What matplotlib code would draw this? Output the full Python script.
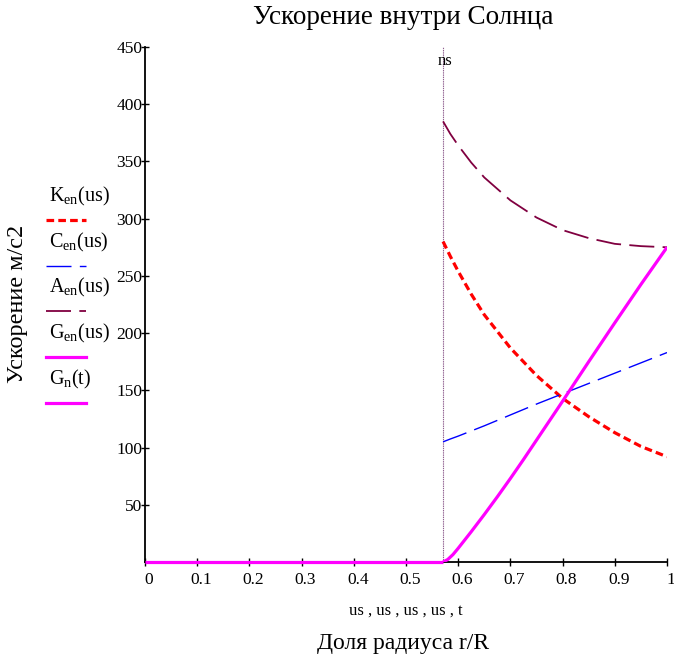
import matplotlib
matplotlib.use("Agg")
import matplotlib.pyplot as plt
from matplotlib.lines import Line2D
import matplotlib.transforms as mtransforms

plt.rcParams['font.family'] = ['Liberation Serif', 'DejaVu Serif']
plt.rcParams['mathtext.fontset'] = 'custom'
plt.rcParams['mathtext.rm'] = 'Liberation Serif'
plt.rcParams['mathtext.it'] = 'Liberation Serif'
plt.rcParams['lines.scale_dashes'] = False

# ---- data ----
ns = 0.571
us = [0.571, 0.585, 0.6, 0.625, 0.65, 0.7, 0.75, 0.8, 0.85, 0.9, 0.95, 1.0]
K_en = [280, 267, 254, 234, 216, 187, 163, 143, 127, 113, 101, 92]
C_en = [105, 107.5, 110, 114.5, 119, 128.5, 138, 147, 156, 165, 174, 183]
A_en = [385, 374, 364, 349, 336, 316, 301, 290, 283, 278, 276, 275]
us_g = [0.571, 0.58, 0.59, 0.6, 0.625, 0.65, 0.675, 0.7, 0.725, 0.75, 0.775, 0.8,
        0.85, 0.9, 0.95, 1.0]
G_en = [0, 2.2, 6.5, 12, 26.5, 41.5, 57, 73, 89.5, 106.5, 123.5, 140.5,
        175, 209, 242.5, 275]
t = [0.0, 0.571]
G_n = [0, 0]

xticks = [0, 0.1, 0.2, 0.3, 0.4, 0.5, 0.6, 0.7, 0.8, 0.9, 1.0]
xticklabels = ['0', '0.1', '0.2', '0.3', '0.4', '0.5', '0.6', '0.7', '0.8', '0.9', '1']
yticks = [50, 100, 150, 200, 250, 300, 350, 400, 450]
yticklabels = ['50', '100', '150', '200', '250', '300', '350', '400', '450']

title = 'Ускорение внутри Солнца'
ylabel = 'Ускорение м/с2'
xvars = 'us , us , us , us , t'
xlabel = 'Доля радиуса r/R'
legend_labels = [r'K$_{\rm en}$(us)', r'C$_{\rm en}$(us)', r'A$_{\rm en}$(us)',
                 r'G$_{\rm en}$(us)', r'G$_{\rm n}$(t)']

# ---- styles ----
W, H = 674, 658
fig = plt.figure(figsize=(W / 100, H / 100), dpi=100)
ax = fig.add_axes([145 / W, 1 - 562 / H, (667 - 145) / W, (562 - 47) / H])

styles = [
    dict(color='#ff0000', lw=2.3, dashes=(5.5, 3.0)),
    dict(color='#0000ff', lw=1.0, dashes=(18, 6)),
    dict(color='#800040', lw=1.3, dashes=(18, 6)),
    dict(color='#ff00ff', lw=2.3, linestyle='-'),
    dict(color='#ff00ff', lw=2.3, linestyle='-'),
]

ax.plot(us, K_en, **styles[0], zorder=3)
ax.plot(us, C_en, **styles[1], zorder=3)
ax.plot(us, A_en, **styles[2], zorder=3)
ax.plot(us_g, G_en, **styles[3], zorder=4, solid_capstyle='butt')
ax.plot(t, G_n, **styles[4], zorder=4, clip_on=False, solid_capstyle='butt')

ax.axvline(ns, color='#906090', lw=0.8, linestyle=(0, (1, 0.6)), zorder=2)
ax.text(ns + 0.004, 438, 'ns', ha='center', va='center', fontsize=12)

ax.set_xlim(0, 1)
ax.set_ylim(0, 450)
for s in ['top', 'right']:
    ax.spines[s].set_visible(False)
for s in ['left', 'bottom']:
    ax.spines[s].set_linewidth(1.3)
    ax.spines[s].set_color('black')

ax.set_xticks(xticks)
ax.set_xticklabels(xticklabels)
ax.set_yticks(yticks)
ax.set_yticklabels(yticklabels)
ax.tick_params(axis='both', direction='inout', length=6, width=1.0, labelsize=12.5, colors='black')
ax.tick_params(axis='x', pad=4)
ax.tick_params(axis='y', pad=-1)

off = mtransforms.ScaledTranslation(0.04, 0, fig.dpi_scale_trans)
for lab in ax.get_xticklabels():
    lab.set_transform(lab.get_transform() + off)

fig.text(403 / W, 1 - 18 / H, title, ha='center', va='center', fontsize=19.5)
fig.text(17.5 / W, 1 - 304 / H, ylabel, ha='center', va='center', rotation=90, fontsize=17.5)
fig.text(406 / W, 1 - 611 / H, xvars, ha='center', va='center', fontsize=12)
fig.text(403 / W, 1 - 644 / H, xlabel, ha='center', va='center', fontsize=17)

label_y = [196, 242, 287, 333, 379]
line_y = [220, 265.5, 311.5, 357, 403]
for lab, ly, yy, st in zip(legend_labels, label_y, line_y, styles):
    fig.text(49 / W, 1 - ly / H, lab, ha='left', va='center', fontsize=14.5)
    kw = dict(st)
    ln = Line2D([46 / W, 86 / W], [1 - yy / H, 1 - yy / H], transform=fig.transFigure,
                **kw)
    fig.lines.append(ln)

fig.savefig('out.png', dpi=100)
